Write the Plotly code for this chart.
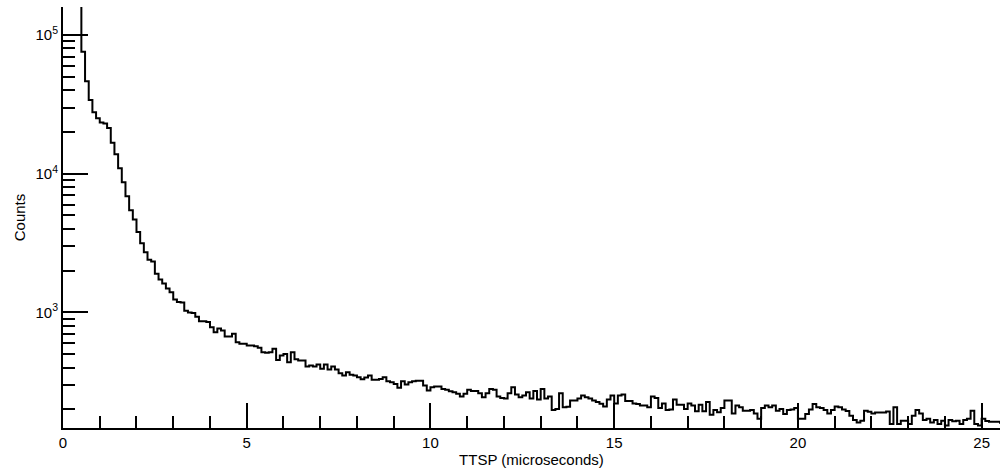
import plotly.graph_objects as go

# Histogram of TTSP (time to stop pulse), 0.1 microsecond bins
first_bin_start = 0.4
bin_width = 0.1
counts = [
    400000, 75700, 46500, 34000, 27800, 25100, 23400, 23000, 21400, 16700,
    13800, 10960, 8700, 6880, 5450, 4680, 3800, 3150, 2720, 2400,
    2330, 1900, 1730, 1620, 1490, 1400, 1240, 1190, 1180, 1030,
    1000, 990, 933, 863, 863, 855, 783, 721, 766, 741,
    671, 671, 702, 611, 594, 594, 578, 578, 570, 556,
    517, 512, 517, 547, 455, 489, 502, 437, 517, 459,
    450, 450, 407, 414, 407, 421, 392, 421, 388, 407,
    388, 364, 351, 371, 355, 351, 341, 330, 340, 351,
    327, 327, 332, 341, 319, 314, 305, 286, 319, 302,
    314, 319, 322, 322, 298, 274, 289, 292, 292, 281,
    277, 270, 266, 259, 248, 259, 277, 271, 271, 262,
    245, 262, 281, 277, 248, 242, 240, 262, 289, 256,
    245, 252, 266, 240, 271, 236, 281, 240, 248, 198,
    201, 262, 207, 209, 232, 232, 240, 252, 245, 240,
    232, 226, 220, 210, 236, 252, 221, 252, 256, 230,
    230, 221, 219, 213, 213, 207, 248, 242, 205, 221,
    198, 200, 236, 216, 216, 201, 221, 213, 194, 216,
    194, 226, 183, 198, 191, 205, 232, 232, 187, 213,
    207, 196, 196, 198, 187, 171, 205, 213, 207, 213,
    196, 201, 185, 198, 200, 205, 171, 171, 185, 200,
    219, 207, 205, 198, 187, 198, 210, 207, 200, 195,
    180, 168, 161, 166, 196, 192, 187, 190, 190, 190,
    193, 157, 207, 157, 166, 166, 157, 180, 198, 187,
    168, 171, 161, 168, 157, 166, 153, 168, 164, 166,
    157, 168, 171, 196, 157, 153, 171, 165, 163, 163,
    163, 160,
]

x_major_ticks = [0, 5, 10, 15, 20, 25]
y_major_ticks = [1000, 10000, 100000]
y_major_labels = ["10<sup>3</sup>", "10<sup>4</sup>", "10<sup>5</sup>"]
y_minor_ticks = [m * d for d in (100, 1000, 10000) for m in range(2, 10)]

edges = [first_bin_start + i * bin_width for i in range(len(counts) + 1)]
y_step = counts + [counts[-1]]

fig = go.Figure()
fig.add_trace(go.Scatter(
    x=edges, y=y_step, mode="lines", line_shape="hv",
    line=dict(color="black", width=2), showlegend=False,
))

font = dict(family="Liberation Sans, Arial, sans-serif", size=15, color="black")

fig.update_layout(
    width=1000, height=473,
    margin=dict(l=63, r=0, t=7, b=45),
    paper_bgcolor="white", plot_bgcolor="white",
    font=font,
    xaxis=dict(
        range=[0, 25.5], tickmode="array", tickvals=x_major_ticks,
        ticks="inside", ticklen=25, tickwidth=2, tickcolor="black",
        minor=dict(ticks="inside", dtick=1, tick0=0, ticklen=12, tickwidth=2,
                   tickcolor="black", showgrid=False),
        showline=True, linewidth=2, linecolor="black",
        showgrid=False, zeroline=False, automargin=False,
        title=dict(text="TTSP (microseconds)", font=font, standoff=4),
    ),
    yaxis=dict(
        type="log", range=[2.167, 5.202],
        tickmode="array", tickvals=y_major_ticks, ticktext=y_major_labels,
        ticks="inside", ticklen=25, tickwidth=2, tickcolor="black",
        minor=dict(ticks="inside", tickmode="array", tickvals=y_minor_ticks,
                   ticklen=12, tickwidth=2, tickcolor="black", showgrid=False),
        showline=True, linewidth=2, linecolor="black",
        showgrid=False, zeroline=False, automargin=False,
        title=dict(text="Counts", font=font, standoff=6),
    ),
)

fig.write_html(
    "out.html",
    config={"displayModeBar": False},
    post_script="document.body.style.margin='0';document.body.style.overflow='hidden';",
)
